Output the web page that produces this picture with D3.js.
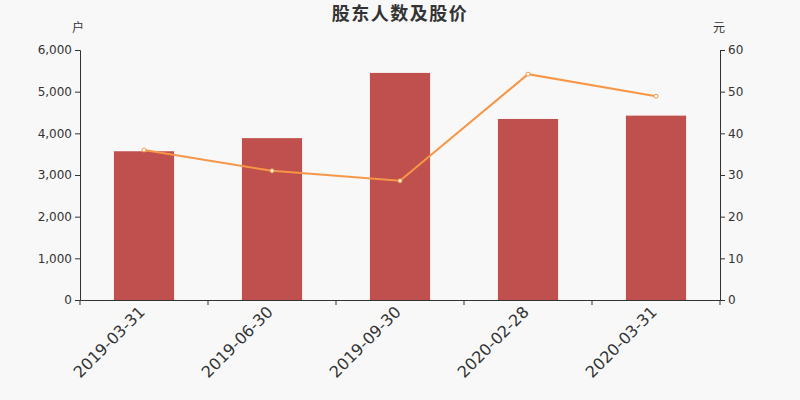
<!DOCTYPE html>
<html>
<head>
<meta charset="utf-8">
<script src="https://cdn.jsdelivr.net/npm/d3@7"></script>
<style>
  body { margin: 0; background: #f8f8f8; }
  svg { display: block; font-family: "DejaVu Sans", "Noto Sans CJK SC", sans-serif; }
</style>
</head>
<body>
<svg id="vis" width="800" height="400"></svg>
<script>
'use strict';

var dates = ['2019-03-31', '2019-06-30', '2019-09-30', '2020-02-28', '2020-03-31'];
var holders = [3570, 3885, 5450, 4345, 4425];
var prices = [36.0, 31.0, 28.6, 54.2, 48.9];
var leftTicks = [0, 1000, 2000, 3000, 4000, 5000, 6000];
var rightTicks = [0, 10, 20, 30, 40, 50, 60];

(function () {
    var margin = {top: 50, right: 80, bottom: 100, left: 80};
    var width = 800 - margin.left - margin.right,
        height = 400 - margin.top - margin.bottom;

    var svg = d3.select('#vis');
    svg.append('rect').attr('width', 800).attr('height', 400).attr('fill', '#f8f8f8');

    var g = svg.append('g').attr('transform', 'translate(' + margin.left + ',' + margin.top + ')');

    var x = d3.scaleBand().domain(dates).range([0, width]);
    var yL = d3.scaleLinear().domain([0, 6000]).range([height, 0]);
    var yR = d3.scaleLinear().domain([0, 60]).range([height, 0]);

    var barW = x.bandwidth() * 0.47;

    // bars
    g.selectAll('.bar')
        .data(holders)
        .enter().append('rect')
        .attr('class', 'bar')
        .attr('x', function (d, i) { return x(dates[i]) + (x.bandwidth() - barW) / 2; })
        .attr('y', function (d) { return yL(d); })
        .attr('width', barW)
        .attr('height', function (d) { return height - yL(d); })
        .attr('fill', '#c0504d');

    // line
    var line = d3.line()
        .x(function (d, i) { return x(dates[i]) + x.bandwidth() / 2; })
        .y(function (d) { return yR(d); });

    g.append('path')
        .datum(prices)
        .attr('d', line)
        .attr('fill', 'none')
        .attr('stroke', '#f79646')
        .attr('stroke-width', 2);

    g.selectAll('.dot')
        .data(prices)
        .enter().append('circle')
        .attr('cx', function (d, i) { return x(dates[i]) + x.bandwidth() / 2; })
        .attr('cy', function (d) { return yR(d); })
        .attr('r', 2)
        .attr('fill', '#fff')
        .attr('stroke', '#f79646')
        .attr('stroke-width', 1);

    // axes
    var fmt = d3.format(',');
    var axL = g.append('g')
        .call(d3.axisLeft(yL).tickValues(leftTicks).tickFormat(fmt).tickSizeOuter(0).tickSize(5));
    var axR = g.append('g')
        .attr('transform', 'translate(' + width + ',0)')
        .call(d3.axisRight(yR).tickValues(rightTicks).tickSizeOuter(0).tickSize(5));
    var axX = g.append('g')
        .attr('transform', 'translate(0,' + height + ')')
        .call(d3.axisBottom(x).tickValues([]).tickSizeOuter(0));

    // band boundary ticks on x axis
    axX.selectAll('.bt')
        .data(d3.range(dates.length + 1))
        .enter().append('line')
        .attr('x1', function (i) { return i * x.step(); })
        .attr('x2', function (i) { return i * x.step(); })
        .attr('y1', 0).attr('y2', 5)
        .attr('stroke', '#333');

    axX.selectAll('.lbl')
        .data(dates)
        .enter().append('text')
        .attr('transform', function (d) {
            return 'translate(' + (x(d) + x.bandwidth() / 2 + 2) + ',13) rotate(-45)';
        })
        .attr('text-anchor', 'end')
        .attr('fill', '#333')
        .style('font-size', '16px')
        .text(function (d) { return d; });

    [axL, axR, axX].forEach(function (a) {
        a.attr('font-family', null).attr('font-size', null);
        a.selectAll('.domain, .tick line').attr('stroke', '#333');
        a.selectAll('.tick text').attr('fill', '#333').style('font-size', '12px');
    });
    axL.selectAll('.tick text').attr('x', -8);
    axR.selectAll('.tick text').attr('x', 8);

    // unit labels
    svg.append('text')
        .attr('x', 78).attr('y', 32)
        .attr('text-anchor', 'middle')
        .attr('fill', '#333')
        .style('font-size', '12px')
        .text('户');
    svg.append('text')
        .attr('x', 719).attr('y', 32)
        .attr('text-anchor', 'middle')
        .attr('fill', '#333')
        .style('font-size', '12px')
        .text('元');

    // title
    svg.append('text')
        .attr('x', 400).attr('y', 20)
        .attr('text-anchor', 'middle')
        .attr('fill', '#333')
        .style('font-size', '18px')
        .style('font-weight', 'bold')
        .style('letter-spacing', '1.5px')
        .text('股东人数及股价');
})();
</script>
</body>
</html>
